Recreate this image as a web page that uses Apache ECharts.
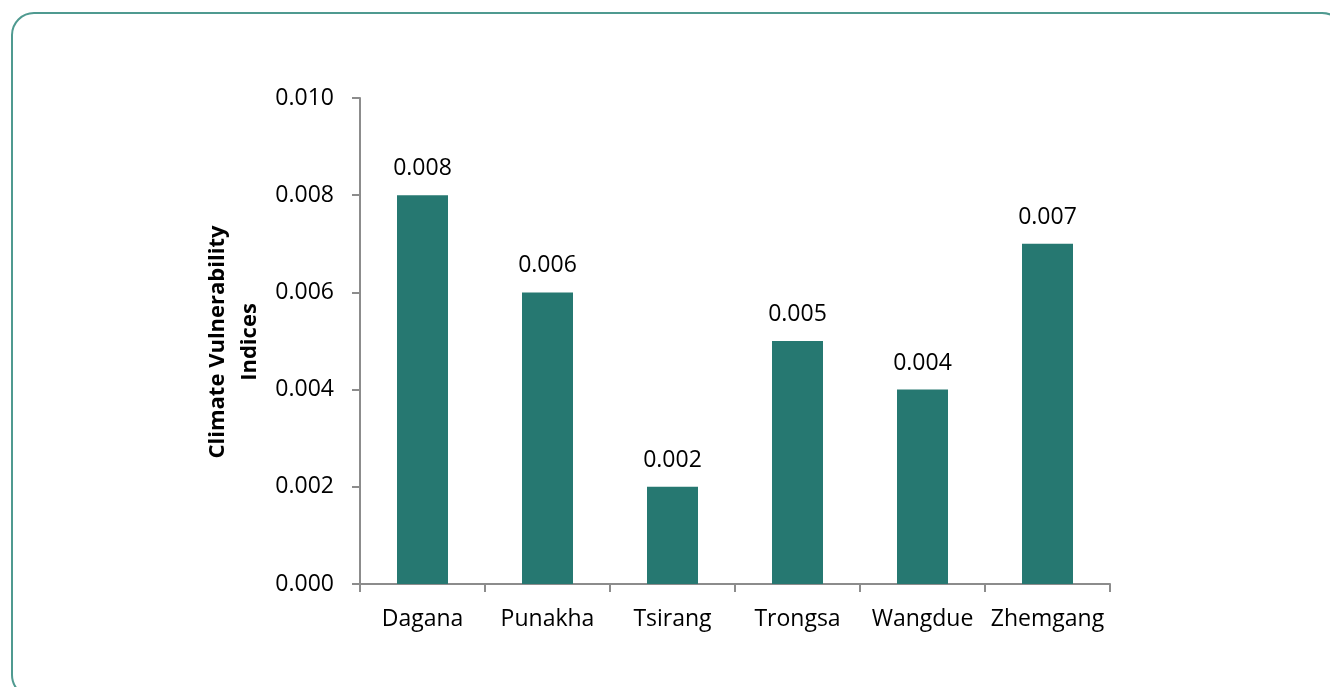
<!DOCTYPE html>
<html><head><meta charset="utf-8">
<script src="https://cdn.jsdelivr.net/npm/echarts@6/dist/echarts.min.js"></script>
<style>html,body{margin:0;padding:0;background:#fff}#c{width:1330px;height:687px}</style>
</head><body><div id="c"></div>
<script>
const categories = ['Dagana','Punakha','Tsirang','Trongsa','Wangdue','Zhemgang'];
const values = [0.008, 0.006, 0.002, 0.005, 0.004, 0.007];
const yTitleLines = ['Climate Vulnerability', 'Indices'];

const chart = echarts.init(document.getElementById('c'), null, {renderer:'canvas'});
const font = 'Open Sans';
chart.setOption({
  animation:false,
  backgroundColor:'#fff',
  graphic:[
    {type:'rect', shape:{x:12, y:13, width:1332, height:684, r:22}, style:{fill:'none', stroke:'#4f9a90', lineWidth:2}, z:0},
    {type:'text', x:234, y:342, rotation:Math.PI/2, style:{text:yTitleLines.join('\n'), font:'bold 22px "Open Sans"', fill:'#000', align:'center', verticalAlign:'middle', lineHeight:32}}
  ],
  grid:{left:360, right:220, top:98, bottom:103, containLabel:false},
  xAxis:{type:'category', data:categories,
    axisLine:{lineStyle:{color:'#8c8c8c', width:2}},
    axisTick:{show:true, length:8, lineStyle:{color:'#8c8c8c', width:2}, alignWithLabel:false},
    axisLabel:{color:'#000', fontFamily:font, fontSize:23, margin:24, interval:0}},
  yAxis:{type:'value', min:0, max:0.01, interval:0.002,
    axisLine:{show:true, lineStyle:{color:'#8c8c8c', width:2}},
    axisTick:{show:true, length:8, lineStyle:{color:'#8c8c8c', width:2}},
    splitLine:{show:false},
    axisLabel:{color:'#000', fontFamily:font, fontSize:23, margin:26, formatter:v=>v.toFixed(3)}},
  series:[{type:'bar', data:values, barWidth:51, itemStyle:{color:'#267871'},
    label:{show:true, position:'top', distance:15, color:'#000', fontFamily:font, fontSize:23, formatter:p=>p.value.toFixed(3)}}]
});
</script></body></html>
